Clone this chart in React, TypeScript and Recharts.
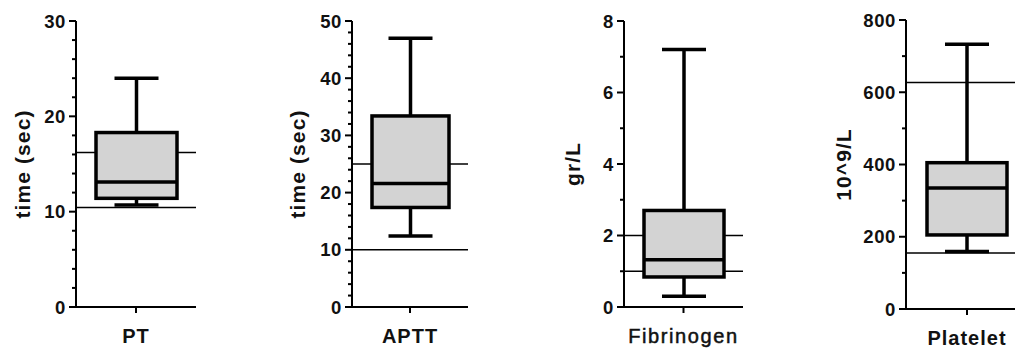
import React from "react";
import { ComposedChart, Bar, XAxis, YAxis, ReferenceLine } from "recharts";

const categories = ["PT", "APTT", "Fibrinogen", "Platelet"];
const yTitles = ["time (sec)", "time (sec)", "gr/L", "10^9/L"];
const minVals = [10.7, 12.4, 0.3, 159];
const q1Vals = [11.4, 17.4, 0.84, 205];
const medianVals = [13.1, 21.6, 1.32, 335];
const q3Vals = [18.3, 33.4, 2.7, 405];
const maxVals = [24, 47, 7.2, 733];
const refLow = [10.45, 10, 1, 155];
const refHigh = [16.2, 25, 2, 627];
const yMax = [30, 50, 8, 800];
const majorStep = [10, 10, 2, 200];
const minorStep = [2, 2, 1, 100];

// where each little chart sits on the page
const layout = [
	{ axisX: 76, plotW: 120, top: 21, bottom: 307, titleDist: 54, box: 81, bold: true },
	{ axisX: 352, plotW: 116, top: 21, bottom: 307, titleDist: 55, box: 77, bold: true },
	{ axisX: 624, plotW: 119, top: 21, bottom: 307, titleDist: 52, box: 80, bold: false },
	{ axisX: 906, plotW: 122, top: 20, bottom: 309, titleDist: 63, box: 80, bold: true },
];

const FONT = '"Liberation Sans", Arial, sans-serif';
const AXIS_W = 90;
const H = 349;

function makeTicks(max: number, step: number) {
	const out: number[] = [];
	for (let v = 0; v <= max + 1e-9; v += step) out.push(Math.round(v * 100) / 100);
	return out;
}

const YTick = (props: any) => {
	const { x, y, payload, major } = props;
	const isMajor = Math.abs(payload.value / major - Math.round(payload.value / major)) < 1e-6;
	return (
		<g>
			<line x1={x - (isMajor ? 7 : 4)} x2={x} y1={y} y2={y} stroke="#000" strokeWidth={2} />
			{isMajor && (
				<text
					x={x - 10}
					y={y}
					textAnchor="end"
					dominantBaseline="central"
					fontFamily={FONT}
					fontSize={18.5}
					fontWeight="bold"
					letterSpacing={0.6}
					fill="#111"
				>
					{payload.value}
				</text>
			)}
		</g>
	);
};

const XTick = (props: any) => {
	const { x, y, payload, bold } = props;
	return (
		<text
			x={x}
			y={y}
			dy="0.71em"
			textAnchor="middle"
			fontFamily={FONT}
			fontSize={20}
			fontWeight={bold ? "bold" : "normal"}
			stroke={bold ? "none" : "#111"}
			strokeWidth={bold ? 0 : 0.5}
			letterSpacing={bold ? 1 : 1.6}
			fill="#111"
		>
			{payload.value}
		</text>
	);
};

const YTitle = (props: any) => {
	const { text, cx, cy } = props;
	return (
		<text
			x={cx}
			y={cy}
			transform={`rotate(-90 ${cx} ${cy})`}
			textAnchor="middle"
			dominantBaseline="central"
			fontFamily={FONT}
			fontSize={21}
			fontWeight="bold"
			letterSpacing={1.1}
			fill="#111"
		>
			{text}
		</text>
	);
};

// draws whiskers, box and median inside the [min,max] bar
const BoxShape = (props: any) => {
	const { x, y, width, height, payload } = props;
	const lo = payload.min;
	const hi = payload.max;
	const yOf = (v: number) => y + (height * (hi - v)) / (hi - lo);
	const cx = x + width / 2;
	const cap = 22;
	const yQ1 = yOf(payload.q1);
	const yQ3 = yOf(payload.q3);
	const yMed = yOf(payload.median);
	return (
		<g>
			<line x1={cx} x2={cx} y1={y} y2={y + height} stroke="#000" strokeWidth={3.5} />
			<line x1={cx - cap} x2={cx + cap} y1={y} y2={y} stroke="#000" strokeWidth={3.5} />
			<line x1={cx - cap} x2={cx + cap} y1={y + height} y2={y + height} stroke="#000" strokeWidth={3.5} />
			<rect x={x} y={yQ3} width={width} height={yQ1 - yQ3} fill="#d3d3d3" stroke="#000" strokeWidth={3.5} />
			<line x1={x} x2={x + width} y1={yMed} y2={yMed} stroke="#000" strokeWidth={3.5} />
		</g>
	);
};

function Panel({ i }: { i: number }) {
	const L = layout[i];
	const data = [
		{
			name: categories[i],
			range: [minVals[i], maxVals[i]],
			min: minVals[i],
			q1: q1Vals[i],
			median: medianVals[i],
			q3: q3Vals[i],
			max: maxVals[i],
		},
	];
	const ticks = makeTicks(yMax[i], minorStep[i]);
	const w = AXIS_W + L.plotW;
	const pos: React.CSSProperties = { position: "absolute", left: L.axisX - AXIS_W, top: 0 };
	return (
		<>
			{/* axes and reference lines underneath */}
			<div style={pos}>
				<ComposedChart
					width={w}
					height={H}
					data={data}
					margin={{ top: L.top, right: 0, bottom: 0, left: 0 }}
				>
					<XAxis
						dataKey="name"
						type="category"
						axisLine={{ stroke: "#000", strokeWidth: 2 }}
						tickLine={{ stroke: "#000", strokeWidth: 2 }}
						tickSize={6}
						tickMargin={16}
						tick={<XTick bold={L.bold} />}
						height={H - L.bottom}
					/>
					<YAxis
						type="number"
						width={AXIS_W}
						domain={[0, yMax[i]]}
						ticks={ticks}
						interval={0}
						allowDataOverflow
						tickLine={false}
						tickSize={0}
						tickMargin={0}
						axisLine={{ stroke: "#000", strokeWidth: 2 }}
						tick={<YTick major={majorStep[i]} />}
						label={<YTitle text={yTitles[i]} cx={AXIS_W - L.titleDist} cy={(L.top + L.bottom) / 2} />}
					/>
					<ReferenceLine y={refHigh[i]} stroke="#000" strokeWidth={1.5} />
					<ReferenceLine y={refLow[i]} stroke="#000" strokeWidth={1.5} />
				</ComposedChart>
			</div>
			{/* box plot on top */}
			<div style={pos}>
				<ComposedChart
					width={w}
					height={H}
					data={data}
					margin={{ top: L.top, right: 0, bottom: H - L.bottom, left: AXIS_W }}
				>
					<XAxis dataKey="name" type="category" hide />
					<YAxis type="number" domain={[0, yMax[i]]} allowDataOverflow hide />
					<Bar dataKey="range" barSize={L.box} shape={<BoxShape />} isAnimationActive={false} />
				</ComposedChart>
			</div>
		</>
	);
}

export default function App() {
	return (
		<div
			style={{
				position: "absolute",
				left: 0,
				top: 0,
				width: 1015,
				height: H,
				overflow: "hidden",
				background: "#fff",
			}}
		>
			{categories.map((c, i) => (
				<Panel key={c} i={i} />
			))}
		</div>
	);
}
